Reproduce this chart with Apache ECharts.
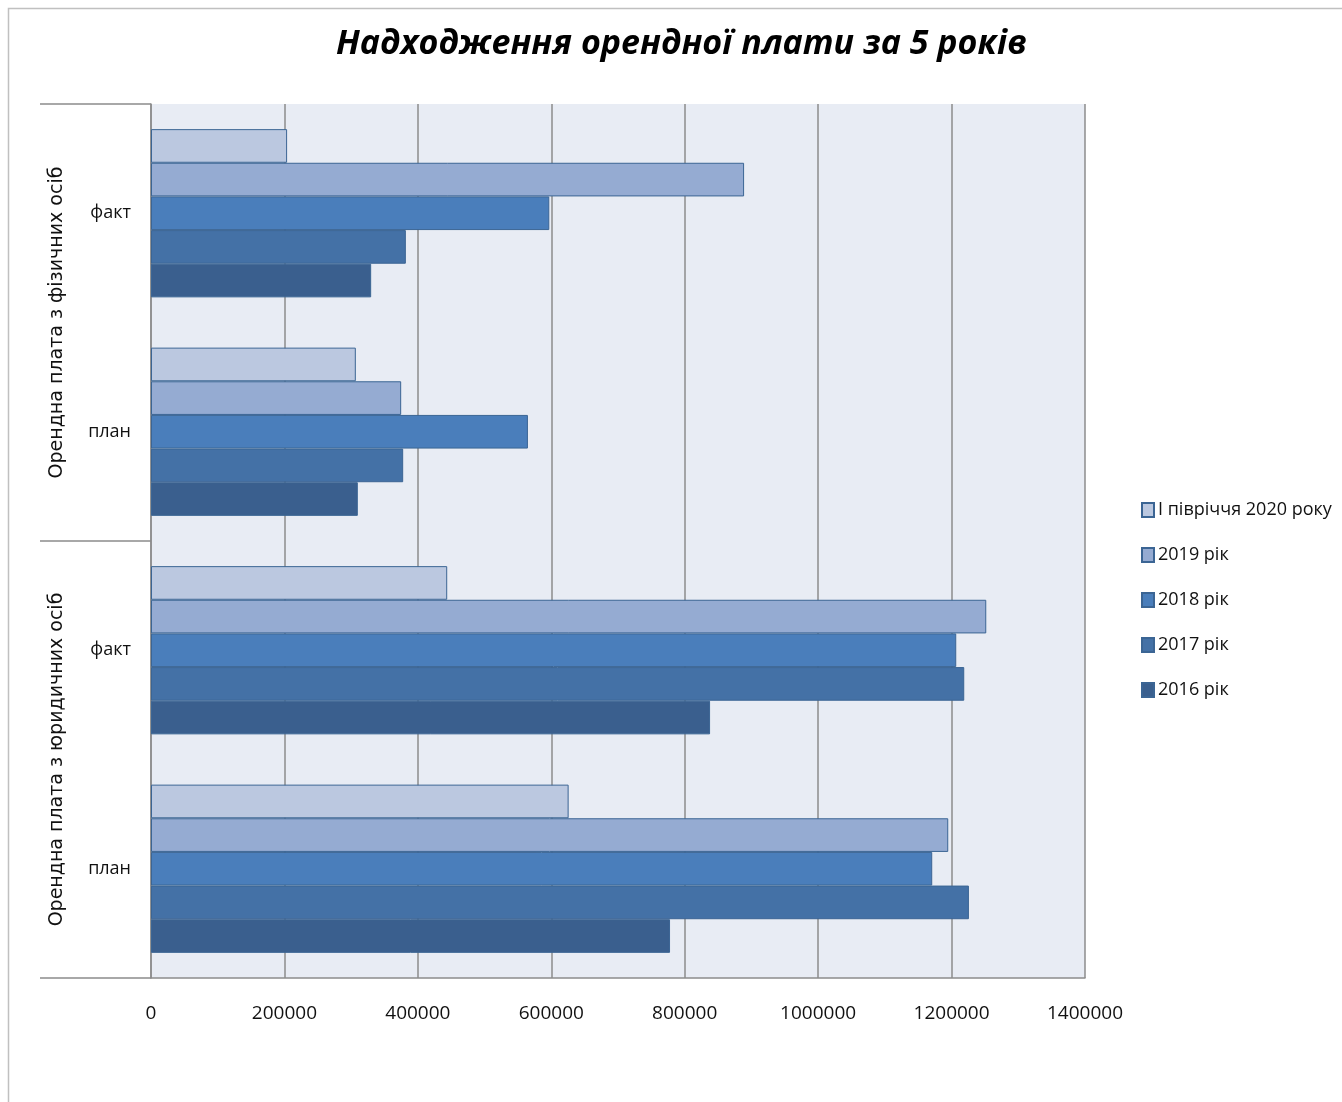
<!DOCTYPE html>
<html>
<head>
<meta charset="utf-8">
<script src="https://cdn.jsdelivr.net/npm/echarts@6/dist/echarts.min.js"></script>
<style>
  html, body { margin: 0; padding: 0; background: #fff; }
  #chart { width: 1342px; height: 1102px; }
</style>
</head>
<body>
<div id="chart"></div>
<script>
// категорії зверху вниз
const groups = ['Орендна плата з фізичних осіб', 'Орендна плата з юридичних осіб'];
const kinds = ['факт', 'план', 'факт', 'план'];
const seriesNames = ['I півріччя 2020 року', '2019 рік', '2018 рік', '2017 рік', '2016 рік'];

// значення: [фіз факт, фіз план, юр факт, юр план]
const h2020 = [204000, 307000, 444000, 626000];
const y2019 = [889000, 375000, 1252000, 1195000];
const y2018 = [597000, 565000, 1207000, 1171000];
const y2017 = [382000, 378000, 1219000, 1226000];
const y2016 = [330000, 310000, 838000, 778000];

const values = [h2020, y2019, y2018, y2017, y2016];
const colors = ['#bbc8e0', '#95abd2', '#4a7ebb', '#4471a6', '#3a5f8e'];

const xTicks = [0, 200000, 400000, 600000, 800000, 1000000, 1200000, 1400000];

const chart = echarts.init(document.getElementById('chart'));

const font = "'Open Sans', sans-serif";
const gridColor = '#8c8c8c';

chart.setOption({
  animation: false,
  backgroundColor: '#fff',
  title: {
    text: 'Надходження орендної плати за 5 років',
    left: 336,
    top: 27,
    padding: 0,
    textStyle: {
      fontFamily: font,
      fontSize: 34,
      fontWeight: 'bold',
      fontStyle: 'italic',
      color: '#000'
    }
  },
  graphic: [{
    type: 'rect',
    left: 6,
    top: 6,
    shape: { width: 1400, height: 1200 },
    style: { fill: 'none', stroke: '#c0c0c0', lineWidth: 1.5 },
    silent: true
  }],
  legend: {
    orient: 'vertical',
    left: 1141,
    top: 501,
    padding: 0,
    itemWidth: 12,
    itemHeight: 14,
    itemGap: 27,
    icon: 'rect',
    textStyle: { fontFamily: font, fontSize: 18, color: '#111', padding: [0, 0, 0, -1] },
    data: seriesNames
  },
  grid: {
    left: 151,
    right: 257,
    top: 104,
    bottom: 124,
    show: true,
    backgroundColor: '#e8ecf4',
    borderWidth: 0
  },
  xAxis: {
    type: 'value',
    min: 0,
    max: 1400000,
    interval: 200000,
    axisLine: { show: true, lineStyle: { color: gridColor, width: 1.5 } },
    axisTick: { show: false },
    splitLine: { show: true, lineStyle: { color: gridColor, width: 1.5 } },
    axisLabel: {
      margin: 26,
      fontFamily: font,
      fontSize: 19,
      color: '#111',
      formatter: function (v) { return xTicks.indexOf(v) >= 0 ? String(v) : ''; }
    }
  },
  yAxis: [{
    type: 'category',
    inverse: true,
    data: kinds,
    axisLine: { show: true, lineStyle: { color: gridColor, width: 1.5 } },
    axisTick: { show: false },
    axisLabel: { margin: 20, fontFamily: font, fontSize: 18, color: '#111' }
  }, {
    type: 'category',
    inverse: true,
    position: 'left',
    data: groups,
    axisLine: { show: false },
    axisTick: { show: true, length: 111, lineStyle: { color: gridColor, width: 1.5 } },
    axisLabel: {
      rotate: 90,
      margin: 84,
      fontFamily: "'DejaVu Sans', sans-serif",
      fontSize: 19,
      color: '#111'
    }
  }],
  series: seriesNames.map(function (name, i) {
    return {
      name: name,
      type: 'bar',
      yAxisIndex: 0,
      data: values[i],
      barGap: '0%',
      barCategoryGap: '23%',
      itemStyle: { color: colors[i], borderColor: '#3b6594', borderWidth: 1 }
    };
  }).concat([{
    // порожня серія, щоб друга вісь (групи) малювалась
    type: 'bar',
    yAxisIndex: 1,
    data: [],
    silent: true
  }])
});
</script>
</body>
</html>
